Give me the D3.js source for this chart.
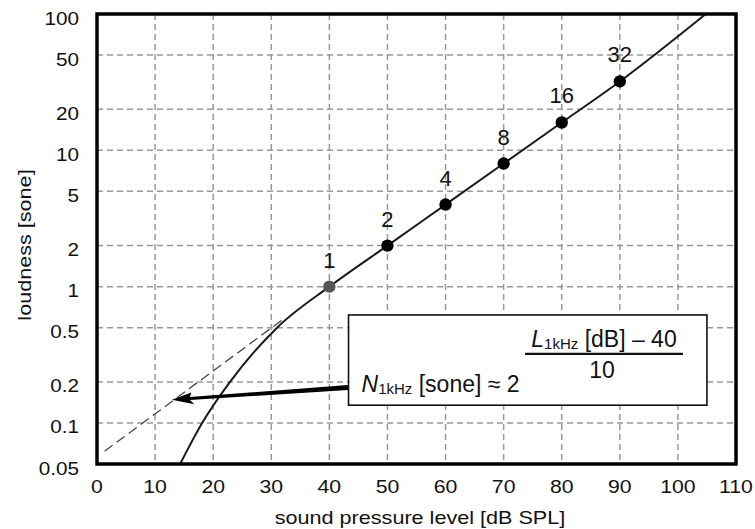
<!DOCTYPE html>
<html lang="en">
<head>
    <meta charset="UTF-8">
    <title>Loudness vs sound pressure level</title>
    <style>
        body { margin: 0; background: #fff; }
        text { font-family: "Liberation Sans", Arial, Helvetica, sans-serif; fill: #111; }
    </style>
</head>
<body>
    <svg width="755" height="529"></svg>
    <script src="https://cdn.jsdelivr.net/npm/d3@7/dist/d3.min.js"></script>
    <script>
        // tick values
        var xTicks = [0, 10, 20, 30, 40, 50, 60, 70, 80, 90, 100, 110];
        var yTicks = [0.05, 0.1, 0.2, 0.5, 1, 2, 5, 10, 20, 50, 100];
        var yTickLabels = ["0.05", "0.1", "0.2", "0.5", "1", "2", "5", "10", "20", "50", "100"];

        // loudness curve
        var curveLevel = [14.3, 18.1, 22.9, 31, 40, 50, 60, 70, 80, 90, 104.8];
        var curveSone  = [0.05, 0.1, 0.2, 0.5, 1, 2, 4, 8, 16, 32, 100];

        // dashed extension of the power law
        var extLevel = [1.3, 32];
        var extSone  = [0.062, 0.575];

        // marked points
        var pointLevel = [40, 50, 60, 70, 80, 90];
        var pointSone  = [1, 2, 4, 8, 16, 32];
        var pointLabel = ["1", "2", "4", "8", "16", "32"];

        var svg = d3.select("svg"),
            margin = {top: 14, right: 19, bottom: 65, left: 97},
            width = 755 - margin.left - margin.right,
            height = 529 - margin.top - margin.bottom;

        var x = d3.scaleLinear().domain([0, 110]).range([margin.left, margin.left + width]);
        var y = d3.scaleLog().domain([0.05, 100]).range([margin.top + height, margin.top]);

        // grid
        svg.append("g").selectAll("line")
            .data(xTicks.slice(1, -1))
            .enter().append("line")
            .attr("x1", function(d) { return x(d); })
            .attr("x2", function(d) { return x(d); })
            .attr("y1", y(100))
            .attr("y2", y(0.05))
            .attr("stroke", "#999")
            .attr("stroke-width", 1.5)
            .attr("stroke-dasharray", "6,4");

        svg.append("g").selectAll("line")
            .data(yTicks.slice(1, -1))
            .enter().append("line")
            .attr("x1", x(0))
            .attr("x2", x(110))
            .attr("y1", function(d) { return y(d); })
            .attr("y2", function(d) { return y(d); })
            .attr("stroke", "#999")
            .attr("stroke-width", 1.5)
            .attr("stroke-dasharray", "6,4");

        // tick labels
        svg.append("g").selectAll("text")
            .data(xTicks)
            .enter().append("text")
            .attr("transform", function(d) { return "translate(" + x(d) + ",493) scale(1.18,1)"; })
            .attr("text-anchor", "middle")
            .style("font-size", "18px")
            .text(function(d) { return d; });

        svg.append("g").selectAll("text")
            .data(yTicks)
            .enter().append("text")
            .attr("transform", function(d) { return "translate(79," + (y(d) + 10.5) + ") scale(1.15,1)"; })
            .attr("text-anchor", "end")
            .style("font-size", "18px")
            .text(function(d, i) { return yTickLabels[i]; });

        // axis titles
        svg.append("text")
            .attr("transform", "translate(420,524) scale(1.2,1)")
            .attr("text-anchor", "middle")
            .style("font-size", "18px")
            .text("sound pressure level [dB SPL]");

        svg.append("text")
            .attr("transform", "translate(31,245) rotate(-90) scale(1.2,1)")
            .attr("text-anchor", "middle")
            .style("font-size", "18px")
            .text("loudness [sone]");

        var line = d3.line()
            .x(function(d) { return x(d[0]); })
            .y(function(d) { return y(d[1]); });

        // dashed extension
        svg.append("path")
            .datum(d3.zip(extLevel, extSone))
            .attr("d", line)
            .attr("fill", "none")
            .attr("stroke", "#444")
            .attr("stroke-width", 1.3)
            .attr("stroke-dasharray", "10,5");

        // loudness curve
        svg.append("path")
            .datum(d3.zip(curveLevel, curveSone))
            .attr("d", line.curve(d3.curveMonotoneX))
            .attr("fill", "none")
            .attr("stroke", "#1a1a1a")
            .attr("stroke-width", 2);

        // points + labels
        var pts = d3.zip(pointLevel, pointSone, pointLabel);

        svg.append("g").selectAll("circle")
            .data(pts)
            .enter().append("circle")
            .attr("cx", function(d) { return x(d[0]); })
            .attr("cy", function(d) { return y(d[1]); })
            .attr("r", 6.2)
            .attr("fill", function(d, i) { return i == 0 ? "#555" : "#000"; });

        svg.append("g").selectAll("text")
            .data(pts)
            .enter().append("text")
            .attr("x", function(d) { return x(d[0]); })
            .attr("y", function(d) { return y(d[1]) - 19; })
            .attr("text-anchor", "middle")
            .style("font-size", "22px")
            .text(function(d) { return d[2]; });

        // arrow from the formula box to the dashed line
        var a0 = [x(43.2), y(0.182)],
            a1 = [x(12.9), y(0.148)];
        var dx = a1[0] - a0[0], dy = a1[1] - a0[1],
            len = Math.sqrt(dx * dx + dy * dy),
            ux = dx / len, uy = dy / len,
            nx = -uy, ny = ux;
        var headLen = 18, headW = 6;
        var hb = [a1[0] - ux * headLen, a1[1] - uy * headLen];
        var arrowPts = [
            [a0[0] + nx * 2.5, a0[1] + ny * 2.5],
            [hb[0] + nx * 1.5, hb[1] + ny * 1.5],
            [hb[0] + nx * headW - ux * 2, hb[1] + ny * headW - uy * 2],
            a1,
            [hb[0] - nx * headW - ux * 4, hb[1] - ny * headW - uy * 4],
            [hb[0] - nx * 1.5, hb[1] - ny * 1.5],
            [a0[0] - nx * 2.5, a0[1] - ny * 2.5]
        ];
        svg.append("path")
            .attr("d", "M" + arrowPts.join("L") + "Z")
            .attr("fill", "#000");

        // formula box
        var bx0 = x(43.3), bx1 = x(105), by0 = y(0.62), by1 = y(0.135);
        svg.append("rect")
            .attr("x", bx0)
            .attr("y", by0)
            .attr("width", bx1 - bx0)
            .attr("height", by1 - by0)
            .attr("fill", "#fff")
            .attr("stroke", "#111")
            .attr("stroke-width", 1.6);

        var lhs = svg.append("text")
            .attr("x", bx0 + 13)
            .attr("y", by0 + 77)
            .style("font-size", "23px");
        lhs.append("tspan").style("font-style", "italic").text("N");
        lhs.append("tspan").attr("dy", 2).style("font-size", "15px").text("1kHz");
        lhs.append("tspan").attr("dy", -2).text(" [sone] \u2248 2");

        var num = svg.append("text")
            .attr("x", 604)
            .attr("y", by0 + 32)
            .attr("text-anchor", "middle")
            .style("font-size", "23px");
        num.append("tspan").style("font-style", "italic").text("L");
        num.append("tspan").attr("dy", 2).style("font-size", "15px").text("1kHz");
        num.append("tspan").attr("dy", -2).text(" [dB] \u2013 40");

        svg.append("line")
            .attr("x1", 525)
            .attr("x2", 683)
            .attr("y1", by0 + 39)
            .attr("y2", by0 + 39)
            .attr("stroke", "#111")
            .attr("stroke-width", 2.2);

        svg.append("text")
            .attr("x", 602)
            .attr("y", by0 + 63)
            .attr("text-anchor", "middle")
            .style("font-size", "23px")
            .text("10");

        // frame
        svg.append("rect")
            .attr("x", x(0))
            .attr("y", y(100))
            .attr("width", width)
            .attr("height", height)
            .attr("fill", "none")
            .attr("stroke", "#000")
            .attr("stroke-width", 3.5);
    </script>
</body>
</html>
